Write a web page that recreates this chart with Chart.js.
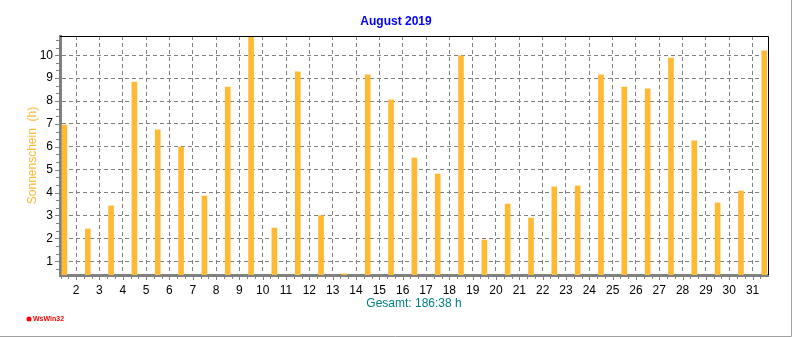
<!DOCTYPE html>
<html>
<head>
<meta charset="utf-8">
<script src="https://cdn.jsdelivr.net/npm/chart.js@4.4.1/dist/chart.umd.min.js"></script>
<style>
  html, body { margin: 0; padding: 0; background: #fff; }
  #wrap { position: relative; width: 792px; height: 337px; }
</style>
</head>
<body>
<div id="wrap"><canvas id="sunChart" width="792" height="337"></canvas></div>
<script>
// Sonnenschein pro Tag, August 2019 (Stunden)
const days = [1, 2, 3, 4, 5, 6, 7, 8, 9, 10, 11, 12, 13, 14, 15, 16, 17, 18, 19, 20, 21, 22, 23, 24, 25, 26, 27, 28, 29, 30, 31];
const sunHours = [6.95, 2.41, 3.42, 8.83, 6.74, 5.99, 3.85, 8.61, 10.84, 2.45, 9.27, 2.99, 0.45, 9.14, 8.05,
                  5.51, 4.81, 9.97, 1.93, 3.50, 2.89, 4.25, 4.29, 9.14, 8.61, 8.53, 9.88, 6.26, 3.55, 4.07, 10.19];
const xTicks = [2, 3, 4, 5, 6, 7, 8, 9, 10, 11, 12, 13, 14, 15, 16, 17, 18, 19, 20, 21, 22, 23, 24, 25, 26, 27, 28, 29, 30, 31];
const yTicks = [1, 2, 3, 4, 5, 6, 7, 8, 9, 10];
const chartTitle = 'August 2019';

const font = "'Liberation Sans', Arial, sans-serif";
const gray = '#808080';

// title over full width, frame, minor ticks and logo
const framePlugin = {
  id: 'frame',
  afterDraw(chart) {
    const ctx = chart.ctx;
    const a = chart.chartArea;
    const xs = chart.scales.x, ys = chart.scales.y;
    ctx.save();

    // title centred on the whole picture
    ctx.fillStyle = '#0000ff';
    ctx.font = 'bold 12px ' + font;
    ctx.textAlign = 'center';
    ctx.textBaseline = 'middle';
    ctx.fillText(chartTitle, chart.width / 2, 22);

    // black top / right border
    ctx.strokeStyle = '#000';
    ctx.lineWidth = 1;
    ctx.beginPath();
    ctx.moveTo(a.left, a.top + 0.5);
    ctx.lineTo(a.right + 0.5, a.top + 0.5);
    ctx.lineTo(a.right + 0.5, a.bottom);
    ctx.stroke();

    // minor ticks (1/3 step)
    ctx.strokeStyle = gray;
    ctx.beginPath();
    for (let i = Math.ceil(xs.min * 3); i <= Math.floor(xs.max * 3); i++) {
      const px = Math.round(xs.getPixelForValue(i / 3)) + 0.5;
      const len = i % 3 === 0 ? 5 : 4;
      ctx.moveTo(px, a.bottom + 1);
      ctx.lineTo(px, a.bottom + len);
    }
    for (let i = Math.ceil(ys.min * 3); i <= Math.floor(ys.max * 3); i++) {
      const py = Math.round(ys.getPixelForValue(i / 3)) + 0.5;
      const len = i % 3 === 0 ? 5 : 4;
      ctx.moveTo(a.left - 1, py);
      ctx.lineTo(a.left - len, py);
    }
    ctx.stroke();

    // outer frame right / bottom
    ctx.strokeStyle = '#a0a0a0';
    ctx.beginPath();
    ctx.moveTo(791.5, 0);
    ctx.lineTo(791.5, 336.5);
    ctx.lineTo(0, 336.5);
    ctx.stroke();

    // logo
    ctx.fillStyle = '#ff0000';
    ctx.beginPath();
    ctx.arc(29, 319, 2.5, 0, Math.PI * 2);
    ctx.fill();
    ctx.font = 'bold 7px ' + font;
    ctx.textAlign = 'left';
    ctx.fillText('WsWin32', 33, 319.5);
    ctx.restore();
  }
};

new Chart(document.getElementById('sunChart'), {
  type: 'bar',
  data: {
    datasets: [{
      label: 'Sonnenschein',
      data: days.map((d, i) => ({ x: d + 0.5, y: sunHours[i] })),
      backgroundColor: '#ffb935',
      borderWidth: 0,
      barThickness: 5
    }]
  },
  options: {
    responsive: false,
    animation: false,
    layout: { padding: { left: 0, right: 24, top: 36, bottom: 22 } },
    plugins: {
      legend: { display: false },
      tooltip: { enabled: false },
      title: { display: false }
    },
    scales: {
      x: {
        type: 'linear',
        min: 1.31,
        max: 31.66,
        offset: false,
        afterBuildTicks: s => { s.ticks = xTicks.map(v => ({ value: v })); },
        afterFit: s => { s.height = 40; },
        grid: { color: gray, lineWidth: 1, drawTicks: false, offset: false },
        border: { color: gray, width: 3, dash: [4, 3] },
        ticks: { color: '#000', font: { family: font, size: 12 }, padding: 8, maxRotation: 0, autoSkip: false },
        title: {
          display: true,
          text: 'Gesamt: 186:38 h',
          color: '#008080',
          font: { family: font, size: 12 },
          padding: { top: 0, bottom: 4.5 }
        }
      },
      y: {
        min: 0.4,
        max: 10.84,
        afterBuildTicks: s => { s.ticks = yTicks.map(v => ({ value: v })); },
        afterFit: s => { s.width = 60; },
        grid: { color: gray, lineWidth: 1, drawTicks: false },
        border: { color: gray, width: 3, dash: [4, 3] },
        ticks: { color: '#000', font: { family: font, size: 12 }, padding: 7 },
        title: {
          display: true,
          text: 'Sonnenschein  (h)',
          color: '#ffb935',
          font: { family: font, size: 12 },
          padding: { top: 25, bottom: 0 }
        }
      }
    }
  },
  plugins: [framePlugin]
});
</script>
</body>
</html>
